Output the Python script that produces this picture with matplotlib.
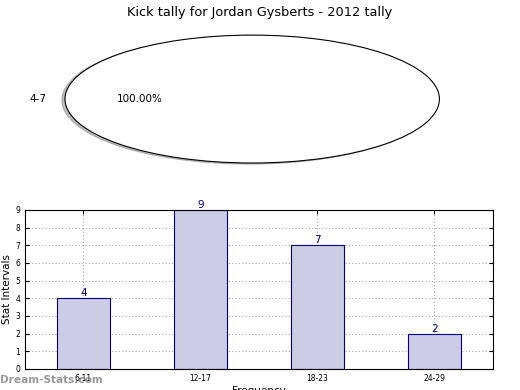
import numpy as np
import matplotlib
matplotlib.use('Agg')
import matplotlib.pyplot as plt

# Datos
titulo = 'Kick tally for Jordan Gysberts - 2012 tally'
pie_labels = ['4-7']
pie_values = [1]
bar_labels = ['6-11', '12-17', '18-23', '24-29']
bar_values = [4, 9, 7, 2]

fig = plt.figure(figsize=(5.2, 3.9), dpi=100)
fig.suptitle(titulo, fontsize=9.3, y=0.985)

# Pastel (se estira como elipse)
ax1 = fig.add_axes([0.035, 0.541, 0.9, 0.41])
ax1.pie(pie_values, labels=pie_labels, autopct='%1.2f%%',
        shadow={'ox': -0.012, 'oy': -0.012, 'shade': 0.5},
        colors=['white'], wedgeprops={'edgecolor': 'black', 'linewidth': 0.8},
        textprops={'fontsize': 7.5})
ax1.set_aspect('auto')
ax1.set_xlim(-1.25, 1.25)
ax1.set_ylim(-1.25, 1.25)

# Barras
ax2 = fig.add_axes([0.048, 0.054, 0.9, 0.408])
x = np.arange(len(bar_labels))
ax2.bar(x, bar_values, width=0.45, color='#ccccE4',
        edgecolor='navy', linewidth=0.8, zorder=2)
for xi, v in zip(x, bar_values):
    ax2.text(xi, v, str(v), ha='center', va='bottom', color='navy', fontsize=7.5)
ax2.set_xticks(x)
ax2.set_xticklabels(bar_labels)
ax2.set_xlim(-0.5, 3.5)
ax2.set_ylim(0, 9)
ax2.set_yticks(range(10))
ax2.tick_params(labelsize=5.5, direction='in', top=True, right=True, length=3)
ax2.grid(True, linestyle=(0, (1, 2)), color='#aaaaaa', linewidth=0.8, zorder=3)
ax2.set_ylabel('Stat Intervals', fontsize=7.5, labelpad=2)
ax2.set_xlabel('Frequency', fontsize=7.5, labelpad=2)

# Marca de agua
fig.text(0.0, 0.018, 'Dream-Stats.com', fontsize=7.6, color='gray', fontweight='bold', alpha=0.8)

plt.savefig('out.png', dpi=100)
